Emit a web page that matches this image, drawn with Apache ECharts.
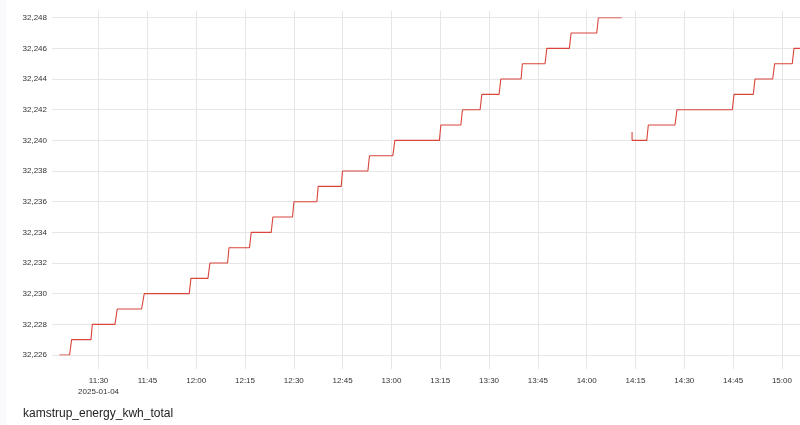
<!DOCTYPE html>
<html>
<head>
<meta charset="utf-8">
<script src="https://cdn.jsdelivr.net/npm/echarts@6/dist/echarts.min.js"></script>
<style>
  html, body { margin: 0; padding: 0; background: #fff; }
  #chart { width: 800px; height: 425px; }
</style>
</head>
<body>
<div id="chart"></div>
<script>
// ---- Data ----
const chartTitle = 'kamstrup_energy_kwh_total';
const dateLabel = '2025-01-04';
const axisStart = '11:15:41';
const axisEnd = '15:05:34';
const firstTick = '11:30:00';
const tickMinutes = 15;

const seg1Times = ['11:17:56','11:21:05','11:21:43','11:27:40','11:28:04','11:35:02','11:35:44','11:43:13','11:44:02',
  '11:57:52','11:58:23','12:03:37','12:04:13','12:09:38','12:10:04','12:16:23','12:16:55','12:23:03','12:23:34',
  '12:29:36','12:30:02','12:37:05','12:37:29','12:44:34','12:44:58','12:52:46','12:53:15','13:00:26','13:01:03',
  '13:14:45','13:15:11','13:21:20','13:21:49','13:27:15','13:27:47','13:33:05','13:33:37','13:39:51','13:40:15',
  '13:47:13','13:47:45','13:54:41','13:55:13','14:03:06','14:03:36','14:10:47'];
const seg1Values = [32226,32226,32227,32227,32228,32228,32229,32229,32230,
  32230,32231,32231,32232,32232,32233,32233,32234,32234,32235,
  32235,32236,32236,32237,32237,32238,32238,32239,32239,32240,
  32240,32241,32241,32242,32242,32243,32243,32244,32244,32245,
  32245,32246,32246,32247,32247,32248,32248];

const gapTime = '14:12:00';

const seg2Times = ['14:13:57','14:13:58','14:18:28','14:18:57','14:27:09','14:27:46','14:44:46','14:45:17',
  '14:51:13','14:51:44','14:57:10','14:57:47','15:03:11','15:03:43','15:06:30'];
const seg2Values = [32240.55,32240,32240,32241,32241,32242,32242,32243,
  32243,32244,32244,32245,32245,32246,32246];

const yMin = 32226, yMax = 32248, yStep = 2;

// ---- Helpers ----
function ts(hms) {
  const p = hms.split(':').map(Number);
  return new Date(2025, 0, 4, p[0], p[1], p[2] || 0).getTime();
}
function pad(n) { return (n < 10 ? '0' : '') + n; }

const seriesData = [];
seg1Times.forEach((t, i) => seriesData.push([ts(t), seg1Values[i]]));
seriesData.push([ts(gapTime), null]);
seg2Times.forEach((t, i) => seriesData.push([ts(t), seg2Values[i]]));

const xMin = ts(axisStart), xMax = ts(axisEnd), xTick0 = ts(firstTick);
const plotLeft = 52, plotWidth = 800 - plotLeft;
// left edge of the tick grid so it shares the same time scale as the plot grid
const tickLeft = plotLeft + (xTick0 - xMin) / (xMax - xMin) * plotWidth;

const fontFam = '"Liberation Sans", Arial, sans-serif';
const gridColor = '#e6e6e6';

const chart = echarts.init(document.getElementById('chart'), null, { renderer: 'canvas' });
chart.setOption({
  animation: false,
  backgroundColor: '#ffffff',
  title: {
    text: chartTitle,
    left: 18, top: 403,
    textStyle: { fontSize: 12, fontWeight: 'normal', color: '#222', fontFamily: fontFam }
  },
  graphic: [{
    type: 'rect', left: 0, top: 0, z: -10,
    shape: { width: 6, height: 425 },
    style: { fill: '#fafafc' }
  }],
  grid: [
    { left: plotLeft, right: 0, top: 17.7, height: 337.3, containLabel: false },
    { left: tickLeft, right: 0, top: 11, bottom: 56, containLabel: false }
  ],
  xAxis: [
    { type: 'value', gridIndex: 0, min: xMin, max: xMax, show: false },
    {
      type: 'value', gridIndex: 1, min: xTick0, max: xMax,
      interval: tickMinutes * 60 * 1000,
      axisLine: { show: false }, axisTick: { show: false },
      splitLine: { show: true, lineStyle: { color: gridColor, width: 1 } },
      axisLabel: {
        margin: 6, fontSize: 8, color: '#333', fontFamily: fontFam, lineHeight: 11,
        showMaxLabel: false,
        formatter: function (v) {
          const d = new Date(v);
          if (d.getSeconds() !== 0) return '';
          const s = pad(d.getHours()) + ':' + pad(d.getMinutes());
          return s === '11:30' ? s + '\n' + dateLabel : s;
        }
      }
    }
  ],
  yAxis: [
    {
      type: 'value', gridIndex: 0, min: yMin, max: yMax, interval: yStep,
      axisLine: { show: false }, axisTick: { show: false },
      splitLine: { show: true, lineStyle: { color: gridColor, width: 1 } },
      axisLabel: {
        margin: 5, fontSize: 8, color: '#333', fontFamily: fontFam,
        formatter: v => v.toLocaleString('en-US')
      }
    },
    { type: 'value', gridIndex: 1, show: false, min: 0, max: 1 }
  ],
  series: [{
    type: 'line',
    xAxisIndex: 0, yAxisIndex: 0,
    data: seriesData,
    showSymbol: false, symbol: 'none',
    connectNulls: false,
    clip: true,
    lineStyle: { color: '#d9453b', width: 1.1 },
    emphasis: { disabled: true }
  }]
});
</script>
</body>
</html>
